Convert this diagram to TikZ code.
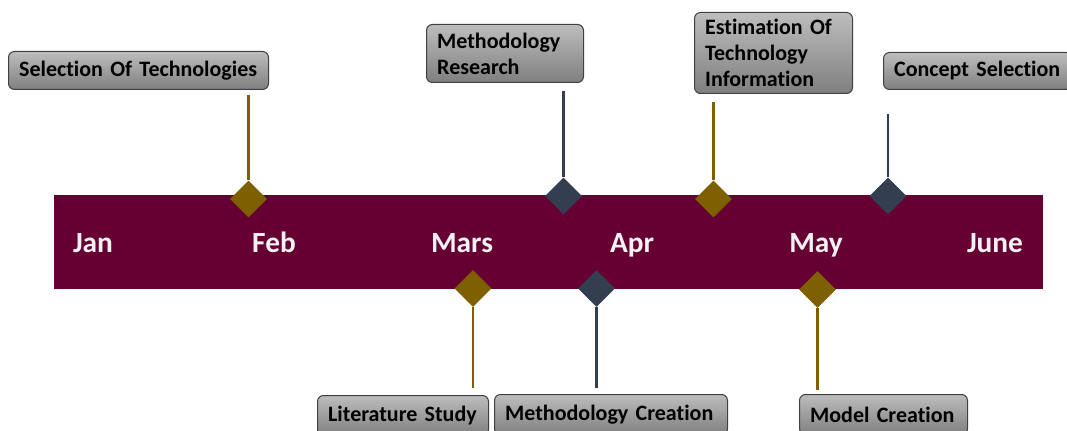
\documentclass[tikz,border=0pt]{standalone}
\usepackage{fontspec}
\setmainfont{Carlito}[Ligatures=NoCommon]
\usepackage{tikz}
\usepackage{xcolor}
\usetikzlibrary{shapes.geometric}

\definecolor{barred}{HTML}{660033}
\definecolor{mustard}{HTML}{7F6000}
\definecolor{slate}{HTML}{333F50}
\definecolor{tagtop}{HTML}{BDBDBD}
\definecolor{tagbot}{HTML}{7F7F7F}
\definecolor{tagline}{HTML}{404040}
\definecolor{monthtext}{HTML}{F2F2F2}

\tikzset{
  month/.style={text=monthtext, anchor=base,
    font=\fontsize{22}{26}\selectfont\bfseries},
  tag/.style={draw=tagline, line width=.75pt, rounded corners=4.5pt,
    top color=tagtop, bottom color=tagbot, anchor=north west,
    inner xsep=8pt, inner ysep=0pt, align=left,
    font=\fontsize{16.5}{19.5}\selectfont\bfseries},
  gem/.style={diamond, aspect=1, inner sep=0pt, minimum size=27.75pt},
  stem/.style={line width=2.2pt}
}

\begin{document}
\begin{tikzpicture}[x=.75pt,y=-.75pt]
  \useasboundingbox (0,0) rectangle (1067,431);
  \fill[barred] (54,195) rectangle (1043,289);

  \path (93,252) node (jan) [month] {Jan}
    (274,252) node (feb) [month] {Feb}
    (462,252) node (mar) [month] {Mars}
    (632,252) node (apr) [month] {Apr}
    (816,252) node (may) [month] {May}
    (995,252) node (jun) [month] {June};

  \node (st) [tag, text width=179pt, minimum height=28.5pt] at (8,51)
    {Selection Of Technologies};
  \node (mr) [tag, text width=101.75pt, minimum height=43.5pt] at (426,24)
    {Methodology\\Research};
  \node (et) [tag, text width=102.5pt, minimum height=60.75pt] at (694,12)
    {Estimation Of\\Technology\\Information};
  \node (cs) [tag, text width=125pt, minimum height=27.75pt] at (883,52)
    {Concept Selection};
  \node (ls) [tag, text width=112.25pt, minimum height=30pt] at (317,395)
    {Literature Study};
  \node (mc) [tag, text width=158.75pt, minimum height=30pt] at (494,394)
    {Methodology Creation};
  \node (mo) [tag, text width=110pt, minimum height=30pt] at (799,394)
    {Model Creation};

  \node (std) [gem, fill=mustard] at (248.5,199) {};
  \node (mrd) [gem, fill=slate] at (563.5,196) {};
  \node (etd) [gem, fill=mustard] at (713.5,199) {};
  \node (csd) [gem, fill=slate] at (888,196) {};
  \node (lsd) [gem, fill=mustard] at (473,288.5) {};
  \node (mcd) [gem, fill=slate] at (596.5,288.5) {};
  \node (mod) [gem, fill=mustard] at (817.5,289.5) {};

  \path (node cs:name=std,anchor=north) +(0,-85) coordinate (sts);
  \draw[stem,mustard] (std.north) -- (sts);
  \path (node cs:name=mrd,anchor=north) +(0,-86) coordinate (mrs);
  \draw[stem,slate] (mrd.north) -- (mrs);
  \path (node cs:name=etd,anchor=north) +(0,-78) coordinate (ets);
  \draw[stem,mustard] (etd.north) -- (ets);
  \path (node cs:name=csd,anchor=north) +(0,-63) coordinate (css);
  \draw[stem,slate] (csd.north) -- (css);
  \path (node cs:name=lsd,anchor=south) +(0,80.5) coordinate (lss);
  \draw[stem,mustard] (lsd.south) -- (lss);
  \path (node cs:name=mcd,anchor=south) +(0,80.5) coordinate (mcs);
  \draw[stem,slate] (mcd.south) -- (mcs);
  \path (node cs:name=mod,anchor=south) +(0,81.5) coordinate (mos);
  \draw[stem,mustard] (mod.south) -- (mos);
\end{tikzpicture}
\end{document}
